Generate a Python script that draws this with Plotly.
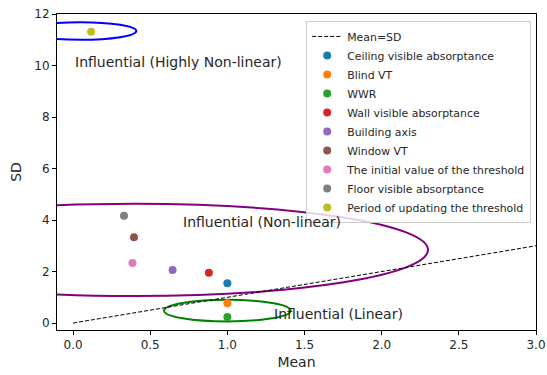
import plotly.graph_objects as go

# ---- data ----
factor_names = ["Ceiling visible absorptance", "Blind VT", "WWR", "Wall visible absorptance",
                "Building axis", "Window VT", "The initial value of the threshold",
                "Floor visible absorptance", "Period of updating the threshold"]
mean_vals = [1.00, 1.00, 1.00, 0.88, 0.645, 0.395, 0.385, 0.33, 0.117]
sd_vals = [1.55, 0.77, 0.23, 1.95, 2.06, 3.33, 2.33, 4.17, 11.31]
colors = ["#1f77b4", "#ff7f0e", "#2ca02c", "#d62728", "#9467bd",
          "#8c564b", "#e377c2", "#7f7f7f", "#bcbd22"]

ref_line_x = [0, 3]
ref_line_y = [0, 3]

# ellipse regions: (center x, center y, semi-x, semi-y, color)
region_cx = [0.05, 0.40, 1.00]
region_cy = [11.34, 2.84, 0.48]
region_ax = [0.36, 1.90, 0.41]
region_ay = [0.34, 1.79, 0.42]
region_col = ["#0000ff", "#800080", "#008000"]

label_text = ["Influential (Highly Non-linear)", "Influential (Non-linear)", "Influential (Linear)"]
label_x = [0.0, 0.70, 1.29]
label_y = [10.15, 3.94, 0.35]

x_ticks = [0.0, 0.5, 1.0, 1.5, 2.0, 2.5, 3.0]
y_ticks = [0, 2, 4, 6, 8, 10, 12]

FONT = "DejaVu Sans"
TXT = "#262626"

fig = go.Figure()
fig.add_trace(go.Scatter(x=ref_line_x, y=ref_line_y, mode="lines", name="Mean=SD",
                         line=dict(color="black", width=1, dash="4px,2px")))
for n, mx, sy, c in zip(factor_names, mean_vals, sd_vals, colors):
    fig.add_trace(go.Scatter(x=[mx], y=[sy], mode="markers", name=n,
                             marker=dict(color=c, size=8)))

for cx, cy, ax_, ay_, col in zip(region_cx, region_cy, region_ax, region_ay, region_col):
    fig.add_shape(type="circle", xref="x", yref="y", x0=cx - ax_, x1=cx + ax_,
                  y0=cy - ay_, y1=cy + ay_, line=dict(color=col, width=2), layer="below")

for t, lx, ly in zip(label_text, label_x, label_y):
    fig.add_annotation(x=lx, y=ly, text=t, showarrow=False, xanchor="left", yanchor="middle",
                       font=dict(family=FONT, size=14, color=TXT))

fig.update_layout(
    width=547, height=375,
    margin=dict(l=57, r=11, t=14, b=45),
    plot_bgcolor="white", paper_bgcolor="white",
    font=dict(family=FONT, size=12, color=TXT),
    showlegend=True,
    legend=dict(x=0.99, y=0.978, xanchor="right", yanchor="top",
                bgcolor="rgba(255,255,255,0.8)", bordercolor="#cccccc", borderwidth=1,
                font=dict(family=FONT, size=10.9, color=TXT), tracegroupgap=0),
    xaxis=dict(range=[-0.104, 3.0], tickvals=x_ticks, ticktext=[f"{v:.1f}" for v in x_ticks],
               showgrid=False, zeroline=False, showline=True, linecolor="black", linewidth=1,
               mirror=True, ticks="outside", ticklen=4, tickcolor="black", automargin=False,
               tickfont=dict(size=12),
               title=dict(text="Mean", font=dict(size=14), standoff=5)),
    yaxis=dict(range=[-0.27, 12.0], tickvals=y_ticks,
               showgrid=False, zeroline=False, showline=True, linecolor="black", linewidth=1,
               mirror=True, ticks="outside", ticklen=4, tickcolor="black", automargin=False,
               tickfont=dict(size=12),
               title=dict(text="SD", font=dict(size=14), standoff=9)),
)

fig.write_html("out.html", config={"displayModeBar": False},
               post_script="document.body.style.margin='0';document.body.style.padding='0';")
